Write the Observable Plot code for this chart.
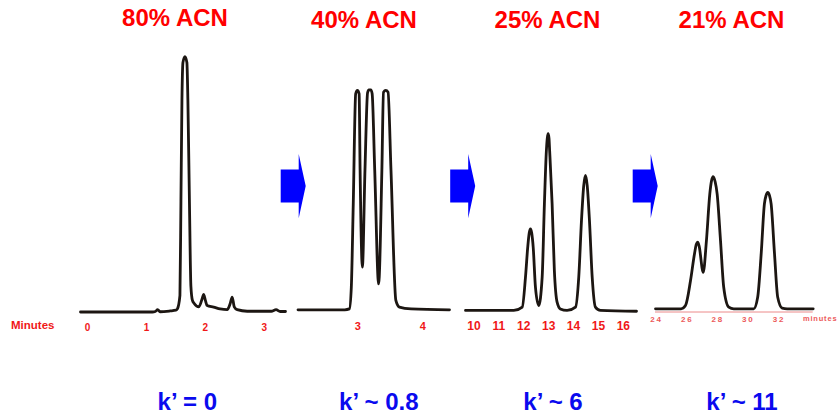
<!DOCTYPE html>
<html>
<head>
<meta charset="utf-8">
<script src="https://cdn.jsdelivr.net/npm/d3@7"></script>
<script src="https://cdn.jsdelivr.net/npm/@observablehq/plot@0.6"></script>
<style>
  html, body { margin: 0; padding: 0; background: #fff; }
  #root { position: relative; width: 838px; height: 416px; overflow: hidden; background: #fff;
          font-family: "Liberation Sans", Arial, sans-serif; }
  .panel { position: absolute; top: 0; }
  .panel svg { overflow: hidden; }
  .title { position: absolute; width: 160px; text-align: center; font-weight: bold; font-size: 24px;
           line-height: 24px; color: #ff0000; white-space: nowrap; }
  .klab { position: absolute; width: 160px; text-align: center; font-weight: bold; font-size: 24px;
          line-height: 24px; color: #0a0aee; white-space: nowrap; }
  .axlab { position: absolute; font-weight: bold; color: #f01818; white-space: nowrap; }
</style>
</head>
<body>
<div id="root"></div>
<script>
// ---- data ----
const titles = ["80% ACN", "40% ACN", "25% ACN", "21% ACN"];
const kLabels = ["k\u2019 = 0", "k\u2019 ~ 0.8", "k\u2019 ~ 6", "k\u2019 ~ 11"];

// Panel 1 (80% ACN): time (min) and detector signal (% of full scale)
const p1Time = [-0.12, 1.10, 1.15, 1.19, 1.23, 1.40, 1.50, 1.525, 1.568, 1.585, 1.602, 1.619, 1.653, 1.686, 1.703, 1.729, 1.754, 1.780, 1.81, 1.89, 1.95, 1.97, 2.00, 2.03, 2.14, 2.25, 2.37, 2.42, 2.455, 2.49, 2.54, 2.71, 3.12, 3.20, 3.27, 3.36];
const p1Signal = [0, 0, 0.2, 0.9, 0.1, 0.4, 0.7, 1.2, 6.4, 43, 82, 96.7, 99, 96.7, 82, 43, 10, 4.5, 3.3, 2.0, 5.5, 6.8, 4.5, 2.5, 1.9, 1.2, 0.9, 3.2, 5.8, 2.0, 0.9, 0.3, 0.3, 0.9, 0.2, 0.2];
const p1Ticks = [0, 1, 2, 3];

// Panel 2 (40% ACN)
const p2Time = [2.08, 2.80, 2.87, 2.90, 2.93, 2.967, 2.994, 3.02, 3.035, 3.07, 3.11, 3.15, 3.17, 3.20, 3.22, 3.26, 3.32, 3.37, 3.395, 3.43, 3.465, 3.51, 3.585, 3.64, 3.82, 4.41];
const p2Signal = [0.85, 0.85, 1.2, 9.6, 42, 84.6, 85.9, 84.6, 55, 17.4, 55, 85, 86.1, 86.1, 84.7, 55, 10.9, 55, 85.2, 85.9, 85.2, 55, 4.5, 1.9, 1.2, 0.85];
const p2Ticks = [3, 4];

// Panel 3 (25% ACN)
const p3Time = [9.66, 11.6, 11.94, 12.07, 12.16, 12.22, 12.27, 12.32, 12.38, 12.47, 12.60, 12.74, 12.83, 12.91, 12.945, 12.98, 13.015, 13.04, 13.14, 13.23, 13.34, 13.47, 13.74, 14.08, 14.21, 14.32, 14.41, 14.48, 14.55, 14.64, 14.75, 14.88, 15.08, 16.53];
const p3Signal = [0.6, 0.6, 1.9, 13.5, 25.1, 30.6, 32.2, 30.6, 25.1, 9.6, 2.5, 13.5, 41.9, 62.6, 67.3, 69.1, 67.3, 62.6, 41.9, 16.1, 3.8, 1.2, 0.6, 1.9, 13.5, 35.5, 49, 52.9, 49, 35.5, 13.5, 1.9, 0.6, 0.3];
const p3Ticks = [10, 11, 12, 13, 14, 15, 16];

// Panel 4 (21% ACN)
const p4Time = [23.93, 25.6, 25.89, 26.22, 26.48, 26.60, 26.69, 26.78, 27.05, 27.26, 27.48, 27.59, 27.70, 27.83, 27.96, 28.18, 28.39, 28.72, 29.05, 30.35, 30.61, 30.84, 31.05, 31.16, 31.27, 31.38, 31.49, 31.71, 31.92, 32.21, 32.54, 34.24];
const p4Signal = [1.24, 1.24, 2.5, 12.2, 22.6, 26.3, 27.1, 25.6, 15.4, 27.7, 45.8, 50.8, 52.5, 50.5, 45.8, 27.7, 9.6, 1.9, 1.24, 1.24, 5.7, 22.6, 41.9, 45.2, 46.4, 45.2, 41.9, 22.6, 5.7, 1.5, 1.24, 1.24];
const p4Ticks = [24, 26, 28, 30, 32];

// ---- layout ----
const root = document.getElementById("root");
const H = 345, MT = 53.5, MB = 33.5;
const LINE = "#1c1612";

function panel({time, signal, ticks, left, width, ml, mr, fontSize, pad, axisRule, tickFill, letterSpacing}) {
  const data = time.map((t, i) => ({t, s: signal[i]}));
  const marks = [];
  if (axisRule) marks.push(Plot.ruleY([0], {stroke: "#ec8a8a", strokeWidth: 1}));
  marks.push(Plot.line(data, {x: "t", y: "s", curve: "monotone-x", stroke: LINE, strokeWidth: 2.8, strokeLinejoin: "round"}));
  marks.push(Plot.axisX({ticks, tickSize: 0, tickPadding: pad, fontSize, fontWeight: "bold",
    fill: tickFill || "#f01818", label: null, tickFormat: d => String(d)}));
  const chart = Plot.plot({
    width, height: H, marginLeft: ml, marginRight: mr, marginTop: MT, marginBottom: MB,
    x: {domain: [time[0], time[time.length - 1]]},
    y: {domain: [0, 100], axis: null},
    style: {background: "transparent", fontFamily: "'Liberation Sans', Arial, sans-serif", overflow: "hidden", letterSpacing: letterSpacing || "normal"},
    marks
  });
  const div = document.createElement("div");
  div.className = "panel";
  div.style.left = left + "px";
  div.appendChild(chart);
  root.appendChild(div);
}

panel({time: p1Time, signal: p1Signal, ticks: p1Ticks, left: 0, width: 300, ml: 80, mr: 15, fontSize: 10, pad: 11.5});
panel({time: p2Time, signal: p2Signal, ticks: p2Ticks, left: 290, width: 170, ml: 7.5, mr: 11, fontSize: 11, pad: 10.5});
panel({time: p3Time, signal: p3Signal, ticks: p3Ticks, left: 460, width: 180, ml: 5, mr: 4, fontSize: 12, pad: 9.5});
panel({time: p4Time, signal: p4Signal, ticks: p4Ticks, left: 643, width: 195, ml: 12, mr: 25.3, fontSize: 8, pad: 4.5, axisRule: true, tickFill: "#ec5a5a", letterSpacing: "1.8px"});

// axis word labels
function axlab(text, left, top, size, color, ls) {
  const d = document.createElement("div");
  d.className = "axlab";
  d.textContent = text;
  d.style.left = left + "px"; d.style.top = top + "px";
  d.style.fontSize = size + "px"; d.style.lineHeight = size + "px";
  if (color) d.style.color = color;
  if (ls) d.style.letterSpacing = ls;
  root.appendChild(d);
}
axlab("Minutes", 11, 320, 11.5);
axlab("minutes", 803, 315, 7.5, "#ec5a5a", "0.8px");

// titles and k' labels
const titleCenters = [175, 364, 547.5, 731.5];
const titleTops = [6.4, 8, 8, 8];
titles.forEach((t, i) => {
  const d = document.createElement("div");
  d.className = "title"; d.textContent = t;
  d.style.left = (titleCenters[i] - 80) + "px"; d.style.top = titleTops[i] + "px";
  root.appendChild(d);
});
const kCenters = [187.3, 378.8, 553, 742];
kLabels.forEach((t, i) => {
  const d = document.createElement("div");
  d.className = "klab"; d.textContent = t;
  d.style.left = (kCenters[i] - 80) + "px"; d.style.top = "390px";
  root.appendChild(d);
});

// blue block arrows between panels (decoration)
const NS = "http://www.w3.org/2000/svg";
const ov = document.createElementNS(NS, "svg");
ov.setAttribute("width", 838); ov.setAttribute("height", 416);
ov.style.position = "absolute"; ov.style.left = "0"; ov.style.top = "0";
[280.7, 450.2, 632.7].forEach(x0 => {
  const p = document.createElementNS(NS, "polygon");
  const pts = [[0, 169.5], [18, 169.5], [18, 154], [25, 186], [18, 218.3], [18, 202.5], [0, 202.5]]
    .map(([x, y]) => (x0 + x) + "," + y).join(" ");
  p.setAttribute("points", pts);
  p.setAttribute("fill", "#0000ff");
  ov.appendChild(p);
});
root.appendChild(ov);
</script>
</body>
</html>
